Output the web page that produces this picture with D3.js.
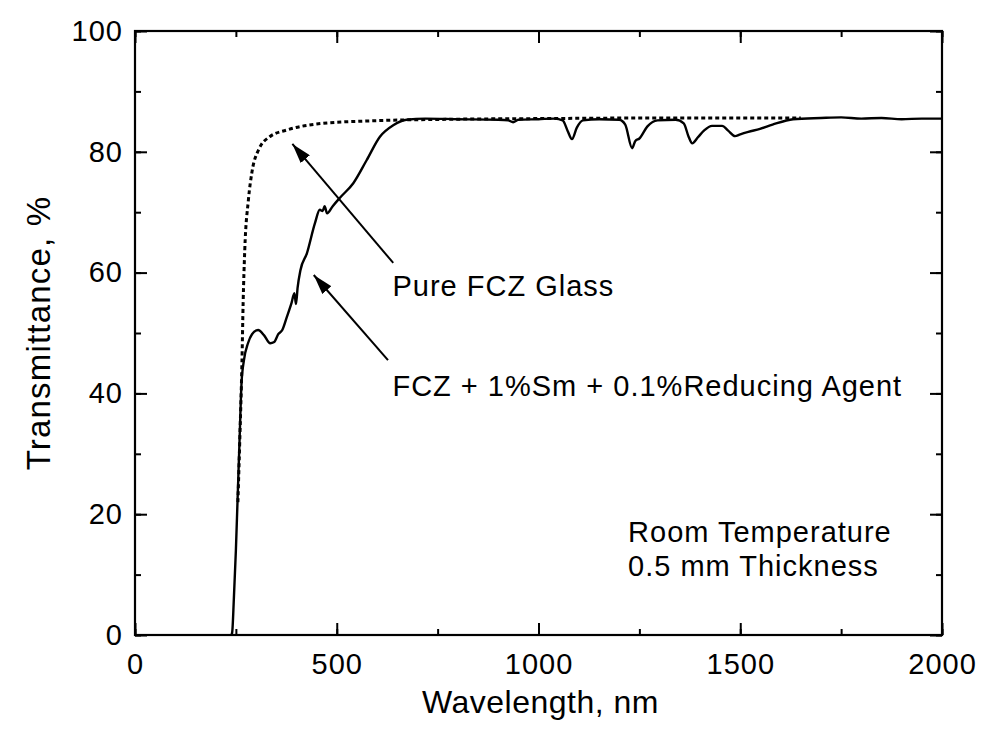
<!DOCTYPE html>
<html><head><meta charset="utf-8">
<script src="https://cdn.jsdelivr.net/npm/d3@7"></script>
<style>body{margin:0;background:#fff}text{font-family:"Liberation Sans",Arial,sans-serif;fill:#000}</style>
</head><body>
<script>
// ---- data ----
const smWave = [239,241,245,250,254,259,264,270,280,290,305,320,335,345,355,365,376,388,395,399,403,410,426,446,458,465,470,476,490,508,541,574,607,640,673,720,800,900,925,937,950,1000,1040,1060,1072,1083,1095,1110,1150,1200,1215,1232,1240,1250,1270,1295,1340,1360,1372,1381,1395,1410,1430,1455,1470,1487,1500,1520,1549,1580,1631,1700,1750,1800,1850,1900,1950,2000];
const smT    = [0,0.5,6,14,22,32,41.7,45.5,48.3,49.8,50.5,49.6,48.3,48.5,49.8,50.5,52.6,55,56.6,54.8,57.5,60.4,63.2,68.2,70.4,70.2,71,69.8,71,72.4,74.8,78.6,82.5,84.4,85.3,85.5,85.4,85.3,85.2,84.9,85.3,85.4,85.5,85.2,83.5,82.1,84.0,85.2,85.4,85.3,84.5,80.6,81.8,82.2,84.2,85.2,85.3,84.7,82.5,81.4,82.4,83.5,84.3,84.3,83.5,82.6,82.9,83.3,83.8,84.5,85.4,85.6,85.7,85.5,85.6,85.4,85.5,85.5];
const pureWave = [255,260,265,268,272,281,290,306,334,376,450,574,800,1000,1300,1650];
const pureT    = [22,33,45,55,63.7,72,76.7,80.3,82.5,83.6,84.6,85.1,85.4,85.5,85.6,85.6];
const xTicks = [0,500,1000,1500,2000];
const yTicks = [0,20,40,60,80,100];
const xTitle = "Wavelength, nm";
const yTitle = "Transmittance, %";
const labelPure = "Pure FCZ Glass";
const labelSm = "FCZ + 1%Sm + 0.1%Reducing Agent";
const noteLines = ["Room Temperature","0.5 mm Thickness"];

// ---- layout ----
const W=984,H=738;
const L=135,R=942,T=31,B=635;
const x=d3.scaleLinear().domain([0,2000]).range([L,R]);
const y=d3.scaleLinear().domain([0,100]).range([B,T]);
const svg=d3.select("body").append("svg").attr("width",W).attr("height",H);
const FS=29, LS=1;

// curves
const line=d3.line().x(d=>x(d[0])).y(d=>y(d[1])).curve(d3.curveMonotoneX);
svg.append("path").datum(pureWave.map((w,i)=>[w,pureT[i]]))
  .attr("d",line).attr("fill","none").attr("stroke","#000").attr("stroke-width",3).attr("stroke-dasharray","4,3");
svg.append("path").datum(smWave.map((w,i)=>[w,smT[i]]))
  .attr("d",line).attr("fill","none").attr("stroke","#000").attr("stroke-width",2.4);

// axes (ticks inward, all sides)
const xMinor=d3.range(0,2001,250), yMinor=d3.range(0,101,10);
function minorAxis(gen,transform,vals){
  svg.append("g").attr("transform",transform)
    .call(gen.tickValues(vals).tickSize(-6).tickFormat("").tickSizeOuter(0));
}
minorAxis(d3.axisBottom(x),`translate(0,${B})`,xMinor);
svg.append("g").attr("transform",`translate(0,${B})`).attr("class","major")
  .call(d3.axisBottom(x).tickValues(xTicks).tickSize(-12).tickSizeOuter(0).tickPadding(18).tickFormat(d3.format("d")));
minorAxis(d3.axisTop(x),`translate(0,${T})`,xMinor);
svg.append("g").attr("transform",`translate(0,${T})`)
  .call(d3.axisTop(x).tickValues(xTicks).tickSize(-12).tickSizeOuter(0).tickFormat(""));
minorAxis(d3.axisLeft(y),`translate(${L},0)`,yMinor);
svg.append("g").attr("transform",`translate(${L},0)`).attr("class","major")
  .call(d3.axisLeft(y).tickValues(yTicks).tickSize(-12).tickSizeOuter(0).tickPadding(12));
minorAxis(d3.axisRight(y),`translate(${R},0)`,yMinor);
svg.append("g").attr("transform",`translate(${R},0)`)
  .call(d3.axisRight(y).tickValues(yTicks).tickSize(-12).tickSizeOuter(0).tickFormat(""));
svg.selectAll(".domain").remove();
svg.selectAll(".tick line").attr("stroke","#000").attr("stroke-width",2);
svg.selectAll(".major .tick text").attr("font-size",FS).attr("letter-spacing",LS)
  .attr("font-family","Liberation Sans, Arial, sans-serif").attr("fill","#000");
// frame
svg.append("rect").attr("x",L).attr("y",T).attr("width",R-L).attr("height",B-T)
  .attr("fill","none").attr("stroke","#000").attr("stroke-width",2.2);

// titles
svg.append("text").attr("x",(L+R)/2+2).attr("y",713).attr("text-anchor","middle")
  .attr("font-size",32).attr("letter-spacing",0.5).text(xTitle);
svg.append("text").attr("transform",`translate(50,${(T+B)/2}) rotate(-90)`).attr("text-anchor","middle")
  .attr("font-size",33).attr("letter-spacing",1.2).text(yTitle);

// annotations
svg.append("text").attr("x",x(638)).attr("y",y(56.2)).attr("font-size",FS).attr("letter-spacing",LS).text(labelPure);
svg.append("text").attr("x",x(638)).attr("y",y(39.6)).attr("font-size",FS).attr("letter-spacing",LS).text(labelSm);
const noteY=[542,576];
noteLines.forEach((t,i)=>svg.append("text").attr("x",x(1222)).attr("y",noteY[i])
  .attr("font-size",FS).attr("letter-spacing",LS).text(t));

// arrows
const defs=svg.append("defs");
defs.append("marker").attr("id","ah").attr("markerUnits","userSpaceOnUse").attr("orient","auto")
  .attr("viewBox","0 0 20 12").attr("refX",20).attr("refY",6).attr("markerWidth",20).attr("markerHeight",12)
  .append("path").attr("d","M0,0 L20,6 L0,12 Z").attr("fill","#000");
const arrows=[[640,61.6,390,81.3],[627,45.5,443,59.6]];
arrows.forEach(a=>svg.append("line").attr("x1",x(a[0])).attr("y1",y(a[1])).attr("x2",x(a[2])).attr("y2",y(a[3]))
  .attr("stroke","#000").attr("stroke-width",2).attr("marker-end","url(#ah)"));
</script>
</body></html>
